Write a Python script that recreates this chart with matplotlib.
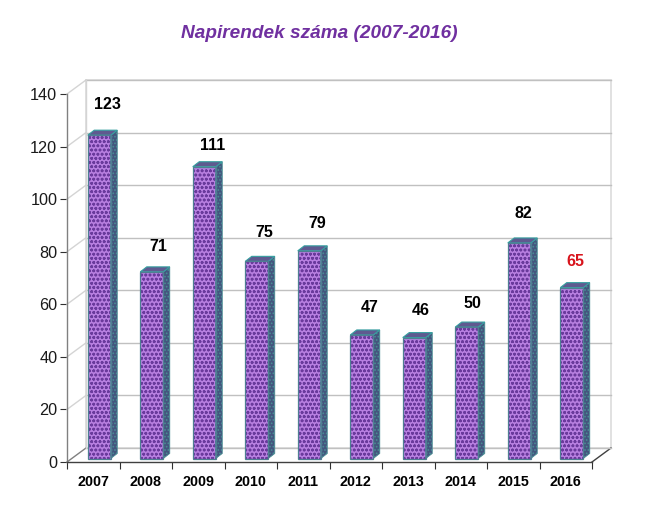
#!/usr/bin/env python3
import matplotlib
matplotlib.use('Agg')
import matplotlib.pyplot as plt
import numpy as np
from matplotlib.patches import Polygon

plt.rcParams['font.family'] = ['Liberation Sans', 'DejaVu Sans']
plt.rcParams['hatch.linewidth'] = 0.8

# Adatok
evek = ['2007', '2008', '2009', '2010', '2011', '2012', '2013', '2014', '2015', '2016']
napirendek = [123, 71, 111, 75, 79, 47, 46, 50, 82, 65]
yticks = [0, 20, 40, 60, 80, 100, 120, 140]

W, H = 649, 509
fig = plt.figure(figsize=(W / 100, H / 100), dpi=100)
ax = fig.add_axes([67 / W, 1 - 462 / H, 525 / W, 368 / H])
ax.set_xlim(0, 10)
ax.set_ylim(0, 140)
ax.patch.set_visible(False)

# pixel -> adat
px = 10 / 525
py = 140 / 368
wall_dx, wall_dy = 19 * px, 14 * py
grid_c = '#c0c0c0'

# hatso fal es padlo
ax.add_patch(Polygon([(wall_dx, wall_dy), (10 + wall_dx, wall_dy), (10 + wall_dx, 140 + wall_dy),
                      (wall_dx, 140 + wall_dy)], closed=True, fc='white', ec='#dcdcdc', lw=1.2,
                     clip_on=False, zorder=1))
ax.plot([10, 10 + wall_dx], [0, wall_dy], color='#404040', lw=1, clip_on=False, zorder=2)
ax.plot([wall_dx, 10 + wall_dx], [wall_dy, wall_dy], color=grid_c, lw=1, clip_on=False, zorder=2)
for t in yticks:
    c = '#808080' if t == 0 else '#d4d4d4'
    ax.plot([0, wall_dx], [t, t + wall_dy], color=c, lw=1, clip_on=False, zorder=2)
    if t > 0:
        ax.plot([wall_dx, 10 + wall_dx], [t + wall_dy, t + wall_dy], color=grid_c, lw=1,
                clip_on=False, zorder=2)
ax.plot([wall_dx, wall_dx], [wall_dy, 140 + wall_dy], color='#d4d4d4', lw=1, clip_on=False, zorder=2)

# oszlopok
x = np.arange(len(evek)) + 0.5
off_x, off_y = 6 * px, 3.5 * py
bw = 23 * px
dep_x, dep_y = 6.5 * px, 5 * py
for i, val in enumerate(napirendek):
    x0 = x[i] + off_x - bw / 2
    x1 = x0 + bw
    y0 = off_y
    y1 = val + off_y
    ax.bar(x0, val, bw, bottom=y0, align='edge', facecolor='#b77fe0', edgecolor='#6a3a9c',
           hatch='oooo', linewidth=0, zorder=4, clip_on=False)
    ax.add_patch(Polygon([(x0, y0), (x1, y0), (x1, y1), (x0, y1)], closed=True, fill=False,
                         ec='#4f7f92', lw=0.9, clip_on=False, zorder=5))
    ax.add_patch(Polygon([(x1, y0), (x1 + dep_x, y0 + dep_y), (x1 + dep_x, y1 + dep_y), (x1, y1)],
                         closed=True, fc='#44557e', ec='#4a8f95', hatch='.....', lw=0.6,
                         clip_on=False, zorder=4))
    ax.add_patch(Polygon([(x0, y1), (x1, y1), (x1 + dep_x, y1 + dep_y), (x0 + dep_x, y1 + dep_y)],
                         closed=True, fc='#5f5a90', ec='#36a0a0', lw=0.8, clip_on=False, zorder=4))

# ertek cimkek
label_y = [136, 82, 120.5, 87.2, 90.6, 58.6, 57.5, 60.4, 94.7, 76.4]
label_dx = [14, 13, 14, 14, 14, 14, 12, 12, 10, 10]
for i, val in enumerate(napirendek):
    c = '#d8141c' if evek[i] == '2016' else 'black'
    ax.text(x[i] + label_dx[i] * px, label_y[i], str(val), ha='center', va='center', fontsize=11.5,
            fontweight='bold', color=c, clip_on=False, zorder=6)

# tengelyek
for s in ['top', 'right']:
    ax.spines[s].set_visible(False)
ax.spines['left'].set_color('#808080')
ax.spines['bottom'].set_color('#404040')
ax.spines['left'].set_linewidth(1)
ax.spines['bottom'].set_linewidth(1)
ax.set_yticks(yticks)
ax.tick_params(axis='y', labelsize=11.7, length=5, color='#303030', pad=2, labelcolor='#1a1a1a')
ax.set_xticks(np.arange(0, 11))
ax.set_xticklabels([])
ax.tick_params(axis='x', length=5, color='#303030', direction='out')
ax.set_xticks(x, minor=True)
ax.set_xticklabels(evek, minor=True, fontsize=10.3, fontweight='bold')
ax.tick_params(axis='x', which='minor', length=0, pad=9)

fig.text(319 / W, 1 - 33 / H, 'Napirendek száma (2007-2016)', ha='center', va='center',
         fontsize=13.7, fontweight='bold', fontstyle='italic', color='#7030a0')

plt.savefig('out.png', dpi=100)
plt.close()
